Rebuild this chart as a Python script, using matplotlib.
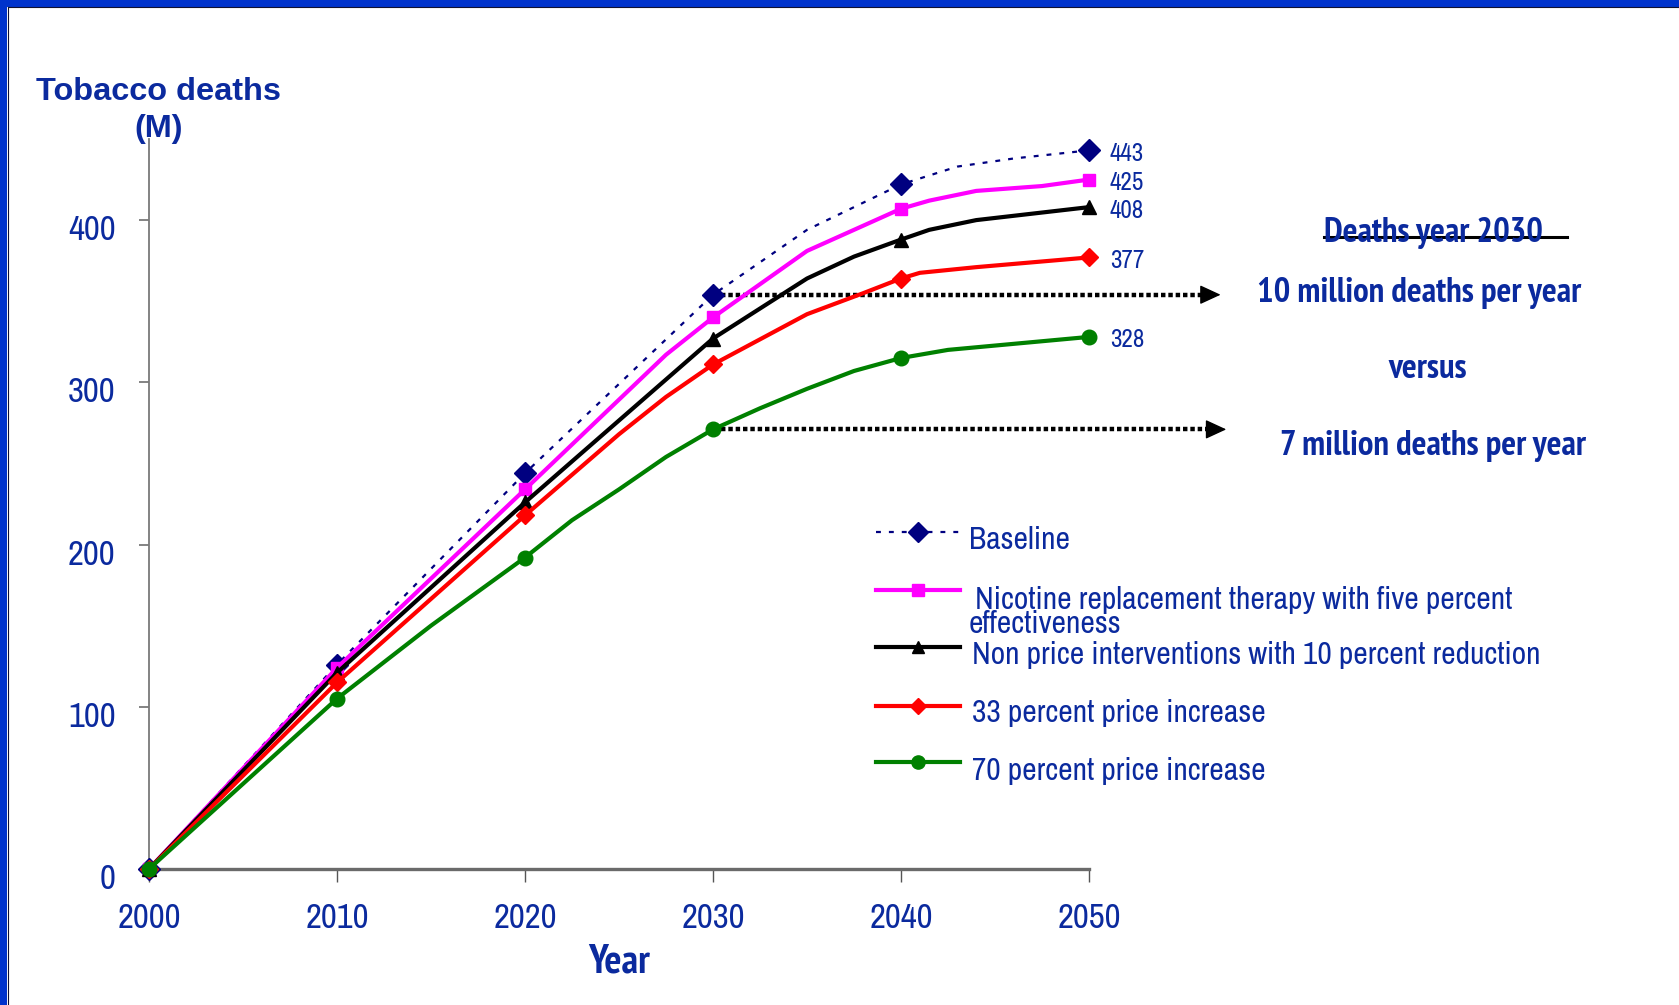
import matplotlib
matplotlib.use("Agg")
import matplotlib.pyplot as plt
from matplotlib.lines import Line2D
from matplotlib.patches import Rectangle
import matplotlib.transforms as mtransforms

# ---- data: projected cumulative tobacco deaths (millions) ----
years_baseline = [2000, 2010, 2020, 2030, 2035, 2040, 2043, 2046, 2050]
deaths_baseline = [0, 126, 244, 354, 394, 422, 433, 438, 443]

years_nrt = [2000, 2010, 2020, 2027.5, 2030, 2035, 2040, 2041.5, 2044, 2047.5, 2050]
deaths_nrt = [0, 124, 234, 317, 340, 381, 407, 412, 418, 421, 425]

years_nonprice = [2000, 2010, 2020, 2030, 2035, 2037.5, 2040, 2041.5, 2044, 2050]
deaths_nonprice = [0, 121, 226, 327, 364, 377.5, 388, 394, 400, 408]

years_price33 = [2000, 2010, 2020, 2025, 2027.5, 2030, 2035, 2038, 2040, 2041, 2044, 2050]
deaths_price33 = [0, 115, 218, 268, 291, 311, 342, 355, 364, 367.5, 371, 377]

years_price70 = [2000, 2010, 2015, 2020, 2022.5, 2025, 2027.5, 2030, 2032.5, 2035,
                 2037.5, 2040, 2042.5, 2050]
deaths_price70 = [0, 105, 150, 192, 215, 234, 254, 271, 284, 296, 307, 315, 320, 328]

series_labels = [
    "Baseline",
    "Nicotine replacement therapy with five percent\neffectiveness",
    "Non price interventions with 10 percent reduction",
    "33 percent price increase",
    "70 percent price increase",
]
x_ticks = [2000, 2010, 2020, 2030, 2040, 2050]
y_ticks = [0, 100, 200, 300, 400]

NAVY = "#0B2A9E"
NARROW = ["Archivo Narrow", "PT Sans Narrow", "DejaVu Sans"]
NARROW_BOLD = ["PT Sans Narrow", "Archivo Narrow", "DejaVu Sans"]
WIDE = ["Liberation Sans", "DejaVu Sans"]

W, H = 1679, 1005
fig = plt.figure(figsize=(W / 100, H / 100), dpi=100)
fig.patch.set_facecolor("white")


def fx(px):
    return px / W


def fy(py):
    return 1 - py / H


# slide frame (blue band along top and left)
fig.add_artist(Rectangle((0, fy(7)), 1, 7 / H, transform=fig.transFigure,
                         facecolor="#0033CC", edgecolor="none"))
fig.add_artist(Rectangle((0, 0), 7 / W, 1, transform=fig.transFigure,
                         facecolor="#0033CC", edgecolor="none"))
fig.add_artist(Line2D([fx(7.5), 1], [fy(7.5), fy(7.5)], transform=fig.transFigure,
                      color="#101030", lw=0.8))
fig.add_artist(Line2D([fx(7.5), fx(7.5)], [0, fy(7.5)], transform=fig.transFigure,
                      color="#101030", lw=0.8))

ax = fig.add_axes([fx(149), fy(869), 940 / W, 730 / H])
ax.set_xlim(2000, 2050)
ax.set_ylim(0, 450)
for side in ("top", "right"):
    ax.spines[side].set_visible(False)
ax.spines["left"].set_color("#7a7a7a")
ax.spines["left"].set_linewidth(1.3)
ax.spines["bottom"].set_color("#6a6a6a")
ax.spines["bottom"].set_linewidth(2.4)

ax.set_xticks(x_ticks)
ax.set_yticks(y_ticks)
ax.tick_params(axis="x", length=9, width=1.0, color="#555555", pad=15,
               labelsize=25, labelcolor=NAVY, labelfontfamily=NARROW)
ax.tick_params(axis="y", length=7, width=1.3, color="#7a7a7a", pad=17,
               labelsize=25, labelcolor=NAVY, labelfontfamily=NARROW)
shift = mtransforms.ScaledTranslation(0, -7 / 100, fig.dpi_scale_trans)
for lbl in ax.get_yticklabels():
    lbl.set_transform(lbl.get_transform() + shift)


def decade_idx(years):
    return [i for i, y in enumerate(years) if y % 10 == 0]


styles = [
    dict(color="#000080", lw=1.6, ls=(0, (2.2, 3.6)), marker="D", ms=11),
    dict(color="#FF00FF", lw=3.0, ls="-", marker="s", ms=9),
    dict(color="black", lw=3.0, ls="-", marker="^", ms=10),
    dict(color="#FF0000", lw=3.0, ls="-", marker="D", ms=9.5),
    dict(color="#008000", lw=3.0, ls="-", marker="o", ms=10.5),
]
all_years = [years_baseline, years_nrt, years_nonprice, years_price33, years_price70]
all_deaths = [deaths_baseline, deaths_nrt, deaths_nonprice, deaths_price33, deaths_price70]

for yrs, vals, st in zip(all_years, all_deaths, styles):
    ax.plot(yrs, vals, color=st["color"], lw=st["lw"], ls=st["ls"],
            marker=st["marker"], ms=st["ms"], markevery=decade_idx(yrs),
            markeredgecolor=st["color"], markerfacecolor=st["color"],
            clip_on=False, zorder=3, solid_joinstyle="round")
    ax.annotate(f"{vals[-1]:g}", xy=(yrs[-1], vals[-1]), xytext=(21, -3),
                textcoords="offset pixels", ha="left", va="center",
                fontsize=18, color=NAVY, family=NARROW, annotation_clip=False)

# dotted arrows marking the 2030 levels
for vals, yrs, x_end in ((deaths_baseline, years_baseline, 2057.0),
                         (deaths_price70, years_price70, 2057.3)):
    y30 = vals[yrs.index(2030)]
    ax.plot([2030.4, x_end - 0.8], [y30, y30], color="black", lw=3.2,
            ls=(0, (1.0, 0.65)), dash_capstyle="butt", clip_on=False, zorder=2)
    ax.annotate("", xy=(x_end, y30), xytext=(x_end - 1.0, y30),
                arrowprops=dict(arrowstyle="-|>,head_length=0.65,head_width=0.3",
                                color="black", lw=1, mutation_scale=20,
                                shrinkA=0, shrinkB=0),
                annotation_clip=False)

# axis titles
fig.text(fx(158), fy(92), "Tobacco deaths", ha="center", va="center",
         fontsize=23.4, fontweight="bold", color=NAVY, family=WIDE)
fig.text(fx(159), fy(129), "(M)", ha="center", va="center",
         fontsize=23.4, fontweight="bold", color=NAVY, family=WIDE)
fig.text(fx(619), fy(962), "Year", ha="center", va="center",
         fontsize=29, fontweight="bold", color=NAVY, family=NARROW_BOLD)

# legend drawn as a block of sample lines and labels
LEG_FS = 22.7
leg_line_y = [532, 590, 647, 706, 762]
leg_text = [(969, 540), (975, 600), (972, 655), (972, 713), (972, 771)]
for st, ly, (tx, ty), label in zip(styles, leg_line_y, leg_text, series_labels):
    fig.add_artist(Line2D([fx(876), fx(918), fx(960)], [fy(ly)] * 3,
                          transform=fig.transFigure, color=st["color"],
                          lw=st["lw"], ls=st["ls"], marker=st["marker"],
                          ms=st["ms"] - 1, markevery=[1],
                          markerfacecolor=st["color"], markeredgecolor=st["color"]))
    if "\n" in label:
        first, second = label.split("\n")
        fig.text(fx(tx), fy(ty), first, ha="left", va="center", fontsize=LEG_FS,
                 color=NAVY, family=NARROW)
        fig.text(fx(969), fy(ty + 24), second, ha="left", va="center", fontsize=LEG_FS,
                 color=NAVY, family=NARROW)
    else:
        fig.text(fx(tx), fy(ty), label, ha="left", va="center", fontsize=LEG_FS,
                 color=NAVY, family=NARROW)

# right-hand commentary
bold_kw = dict(ha="center", va="center", fontsize=25, fontweight="bold",
               color=NAVY, family=NARROW_BOLD)
fig.text(fx(1433), fy(233), "Deaths year 2030", **bold_kw)
fig.add_artist(Line2D([fx(1324), fx(1567)], [fy(237), fy(237)],
                      transform=fig.transFigure, color="black", lw=2.2))
fig.text(fx(1419), fy(293), "10 million deaths per year", **bold_kw)
fig.text(fx(1428), fy(369), "versus", **bold_kw)
fig.text(fx(1433), fy(446), "7 million deaths per year", **bold_kw)

fig.savefig("out.png", dpi=100, facecolor="white")
